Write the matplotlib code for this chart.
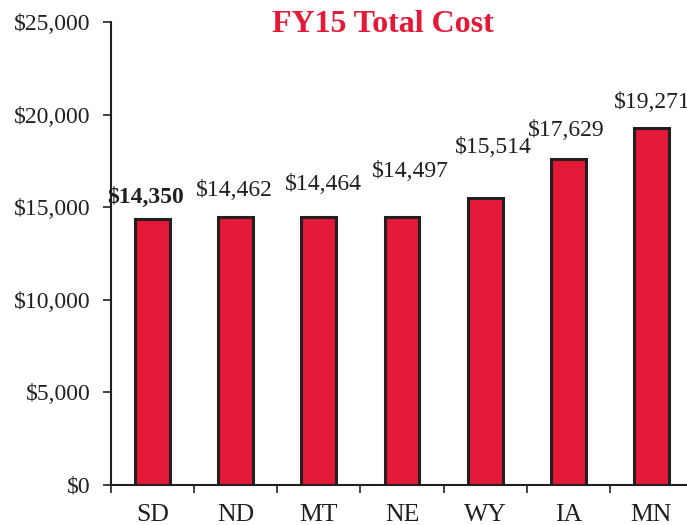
import matplotlib
matplotlib.use("Agg")
import matplotlib.pyplot as plt
from matplotlib.ticker import FuncFormatter, FixedLocator
import numpy as np

states = ["SD", "ND", "MT", "NE", "WY", "IA", "MN"]
costs = [14350, 14462, 14464, 14497, 15514, 17629, 19271]
value_labels = ["$14,350", "$14,462", "$14,464", "$14,497", "$15,514", "$17,629", "$19,271"]
title = "FY15 Total Cost"

# label placement styling (pixels above bar top, horizontal shift in px)
label_dy = [22, 27, 33, 45, 50, 28, 26]
label_dx = [-7, -1, 5, 8, 8, -2, 1]

plt.rcParams["font.family"] = ["Liberation Serif", "DejaVu Serif"]

fig = plt.figure(figsize=(6.87, 5.25), dpi=100)
ax = fig.add_axes([111/687, 1-485/525, 582/687, 463/525])

x = np.arange(len(states))
bars = ax.bar(x, costs, width=0.42, color="#E31937", edgecolor="#231F20", linewidth=2.2, zorder=3)

ax.set_xlim(-0.5, len(states) - 0.5)
ax.set_ylim(0, 25000)
ax.set_yticks(np.arange(0, 25001, 5000))
ax.yaxis.set_major_formatter(FuncFormatter(lambda v, p: "${:,.0f}".format(v)))
ax.set_xticks(x)
ax.set_xticklabels(states)
ax.xaxis.set_minor_locator(FixedLocator(np.arange(-0.5, len(states), 1.0)))
ax.tick_params(axis="x", which="major", length=0, pad=14, labelsize=18.5, labelcolor="#231F20")
ax.tick_params(axis="x", which="minor", length=6, width=1.2, direction="out", color="#231F20")
ax.tick_params(axis="y", which="major", length=5.5, width=1.2, pad=9, labelsize=17,
               color="#231F20", labelcolor="#231F20")

for s in ["top", "right"]:
    ax.spines[s].set_visible(False)
ax.spines["left"].set_linewidth(1.5)
ax.spines["bottom"].set_linewidth(1.5)
ax.spines["left"].set_color("#231F20")
ax.spines["bottom"].set_color("#231F20")

for i, (xi, v, lab) in enumerate(zip(x, costs, value_labels)):
    ax.annotate(lab, (xi, v), xytext=(label_dx[i]*0.72, label_dy[i]*0.72),
                textcoords="offset points", ha="center", va="center",
                fontsize=17, fontweight="bold" if i == 0 else "normal",
                color="#231F20", annotation_clip=False)

fig.text(383/687, 1-25/525, title, ha="center", va="center", fontsize=23,
         fontweight="bold", color="#E31937")

fig.savefig("out.png", dpi=100)
